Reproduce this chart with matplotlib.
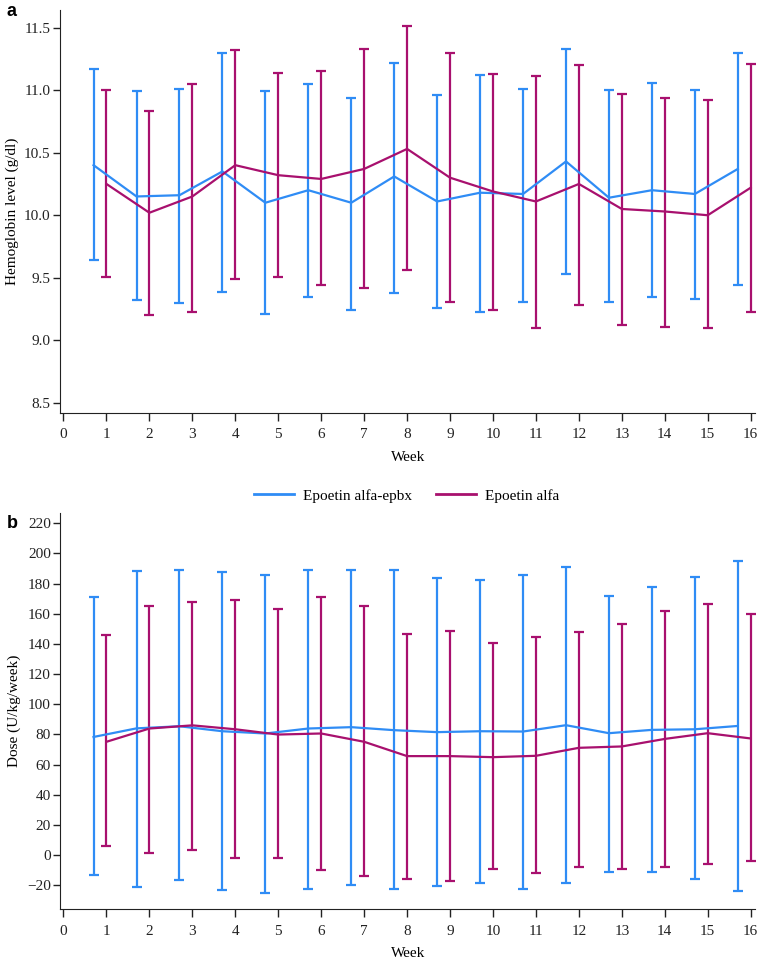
import numpy as np
import matplotlib
matplotlib.use("Agg")
import matplotlib.pyplot as plt
from matplotlib.lines import Line2D

# Weeks and series values
weeks = np.arange(1, 17)

# Panel a: hemoglobin (g/dl)
hb_epbx_mean = [10.40, 10.15, 10.16, 10.35, 10.10, 10.20, 10.10, 10.31,
                10.11, 10.18, 10.17, 10.43, 10.14, 10.20, 10.17, 10.37]
hb_epbx_low = [9.64, 9.32, 9.30, 9.39, 9.21, 9.35, 9.24, 9.38,
               9.26, 9.23, 9.31, 9.53, 9.31, 9.35, 9.33, 9.44]
hb_epbx_high = [11.17, 10.99, 11.01, 11.30, 10.99, 11.05, 10.94, 11.22,
                10.96, 11.12, 11.01, 11.33, 11.00, 11.06, 11.00, 11.30]

hb_alfa_mean = [10.25, 10.02, 10.15, 10.40, 10.32, 10.29, 10.37, 10.53,
                10.30, 10.19, 10.11, 10.25, 10.05, 10.03, 10.00, 10.22]
hb_alfa_low = [9.51, 9.20, 9.23, 9.49, 9.51, 9.44, 9.42, 9.56,
               9.31, 9.24, 9.10, 9.28, 9.12, 9.11, 9.10, 9.23]
hb_alfa_high = [11.00, 10.83, 11.05, 11.32, 11.14, 11.15, 11.33, 11.51,
                11.30, 11.13, 11.11, 11.20, 10.97, 10.94, 10.92, 11.21]

# Panel b: dose (U/kg/week)
dose_epbx_mean = [78.3, 84.0, 85.4, 82.1, 80.6, 83.9, 84.8, 82.8,
                  81.5, 82.1, 81.9, 86.1, 80.8, 83.0, 83.4, 85.6]
dose_epbx_low = [-13.2, -21.4, -16.6, -23.2, -25.0, -22.3, -19.9, -22.7,
                 -20.5, -18.8, -22.5, -18.3, -11.5, -11.5, -15.7, -24.0]
dose_epbx_high = [170.9, 188.1, 188.7, 187.6, 185.9, 188.9, 189.2, 188.7,
                  183.4, 182.6, 185.4, 190.9, 171.8, 177.5, 184.3, 194.9]

dose_alfa_mean = [75.1, 83.9, 86.0, 83.4, 79.9, 80.6, 75.1, 65.6,
                  65.6, 64.9, 65.8, 71.1, 72.0, 77.0, 80.8, 77.3]
dose_alfa_low = [6.0, 1.1, 3.3, -2.2, -2.2, -9.9, -13.9, -15.9,
                 -17.0, -9.3, -12.1, -7.7, -9.5, -7.7, -6.0, -3.8]
dose_alfa_high = [145.7, 164.9, 167.8, 168.9, 162.9, 170.9, 164.9, 146.8,
                  148.8, 140.6, 144.6, 148.1, 153.0, 161.6, 166.4, 159.6]

series_names = ["Epoetin alfa-epbx", "Epoetin alfa"]
blue = "#2F8CF5"
magenta = "#A8106E"

plt.rcParams['font.family'] = ['Liberation Serif', 'DejaVu Serif']
plt.rcParams['font.size'] = 11

fig = plt.figure(figsize=(7.59, 9.6), dpi=100)
ax_a = fig.add_axes([0.0797, 0.5698, 0.915, 0.4198])
ax_b = fig.add_axes([0.0797, 0.0528, 0.915, 0.4131])


def draw_panel(ax, x_off, m1, lo1, hi1, m2, lo2, hi2):
    m1, lo1, hi1 = map(np.asarray, (m1, lo1, hi1))
    m2, lo2, hi2 = map(np.asarray, (m2, lo2, hi2))
    x1 = weeks - x_off
    ax.errorbar(x1, m1, yerr=[m1 - lo1, hi1 - m1], color=blue, lw=1.6,
                elinewidth=1.6, capsize=3.5, capthick=1.6)
    ax.errorbar(weeks, m2, yerr=[m2 - lo2, hi2 - m2], color=magenta, lw=1.6,
                elinewidth=1.6, capsize=3.5, capthick=1.6)
    ax.set_xlim(-0.07, 16.1)
    ax.set_xticks(range(0, 17))
    ax.set_xlabel("Week", fontsize=11, labelpad=7)
    ax.spines['top'].set_visible(False)
    ax.spines['right'].set_visible(False)
    ax.spines['left'].set_color('#222222')
    ax.spines['bottom'].set_color('#222222')
    ax.tick_params(axis='x', direction='out', length=6, width=1, colors='#222222',
                   labelsize=11, pad=5)
    ax.tick_params(axis='y', direction='out', length=5, width=1, colors='#222222',
                   labelsize=11, pad=2)


draw_panel(ax_a, 0.3, hb_epbx_mean, hb_epbx_low, hb_epbx_high,
           hb_alfa_mean, hb_alfa_low, hb_alfa_high)
ax_a.set_ylim(8.42, 11.64)
ax_a.set_yticks([8.5, 9.0, 9.5, 10.0, 10.5, 11.0, 11.5])
ax_a.set_ylabel("Hemoglobin level (g/dl)", fontsize=11, labelpad=4)

draw_panel(ax_b, 0.3, dose_epbx_mean, dose_epbx_low, dose_epbx_high,
           dose_alfa_mean, dose_alfa_low, dose_alfa_high)
ax_b.set_ylim(-36, 227)
ax_b.set_yticks(range(-20, 221, 20))
ax_b.set_yticklabels([f"{v}".replace("-", "\u2212") for v in range(-20, 221, 20)])
ax_b.set_ylabel("Dose (U/kg/week)", fontsize=11, labelpad=4)

# panel letters
fig.text(0.009, 0.988, "a", family='Liberation Sans', weight='bold', fontsize=13, va='center')
fig.text(0.009, 0.455, "b", family='Liberation Sans', weight='bold', fontsize=13, va='center')

# shared legend between the panels
handles = [Line2D([], [], color=blue, lw=2), Line2D([], [], color=magenta, lw=2)]
fig.legend(handles, series_names, loc='center', bbox_to_anchor=(0.536, 0.4836),
           ncol=2, frameon=False, fontsize=11, handlelength=2.6,
           handletextpad=0.6, columnspacing=1.6)

fig.savefig("out.png", dpi=100)
